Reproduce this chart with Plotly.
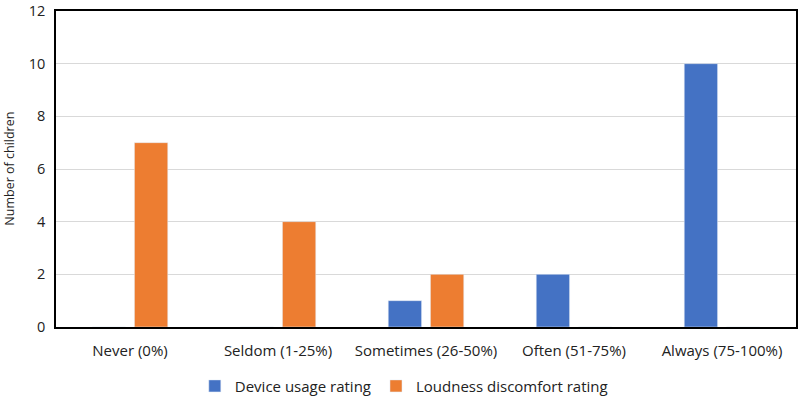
import plotly.graph_objects as go

categories = ["Never (0%)", "Seldom (1-25%)", "Sometimes (26-50%)", "Often (51-75%)", "Always (75-100%)"]
device_usage = [0, 0, 1, 2, 10]
loudness_discomfort = [7, 4, 2, 0, 0]
y_ticks = [0, 2, 4, 6, 8, 10, 12]

fig = go.Figure()
fig.add_trace(go.Bar(name="Device usage rating", x=categories, y=device_usage, marker_color="#4472C4"))
fig.add_trace(go.Bar(name="Loudness discomfort rating", x=categories, y=loudness_discomfort, marker_color="#ED7D31"))

font = "Open Sans, Liberation Sans, sans-serif"
fig.update_layout(
    width=800, height=396,
    margin=dict(l=56, r=4, t=11, b=69, autoexpand=False),
    plot_bgcolor="white", paper_bgcolor="white",
    barmode="group", bargap=0.43, bargroupgap=0.21,
    font=dict(family=font, size=15, color="#222"),
    legend=dict(orientation="h", x=0.470, xanchor="center", y=-0.135, yanchor="top",
                font=dict(size=15), traceorder="normal"),
    showlegend=True,
)
fig.update_xaxes(showline=True, linecolor="black", linewidth=1.5, mirror=True,
                 tickfont=dict(size=15), ticks="", ticklabelstandoff=9, automargin=False)
fig.update_yaxes(range=[0, 12], tickvals=y_ticks, ticktext=[str(v) for v in y_ticks],
                 showgrid=True, gridcolor="#d9d9d9",
                 showline=True, linecolor="black", linewidth=1.5, mirror=True,
                 zeroline=False, tickfont=dict(size=14.5), ticks="", ticklabelstandoff=6,
                 ticklabeloverflow="allow", automargin=False)
fig.add_annotation(text="Number of children", xref="paper", yref="paper", x=-0.064, y=0.5,
                   textangle=-90, showarrow=False, font=dict(size=12.5), xanchor="center", yanchor="middle")
fig.write_html("out.html", config={"responsive": False, "displayModeBar": False},
               post_script="document.body.style.margin='0';document.body.style.overflow='hidden';")
